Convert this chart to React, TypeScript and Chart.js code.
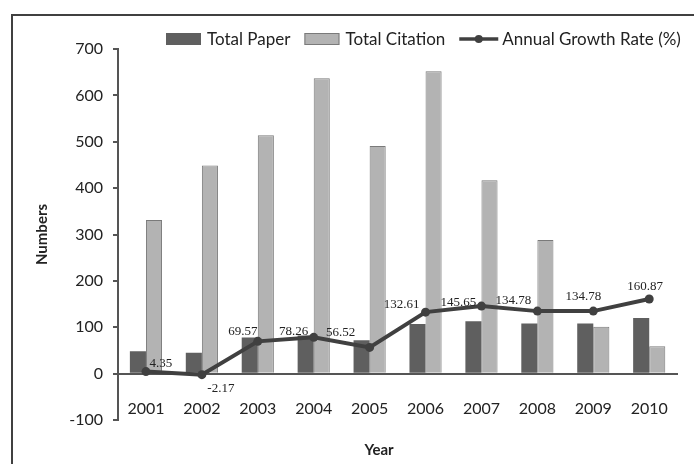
import React, { useEffect, useRef } from "react";
import { Chart, registerables } from "chart.js";

Chart.register(...registerables);

const years = ["2001", "2002", "2003", "2004", "2005", "2006", "2007", "2008", "2009", "2010"];
const totalPaper = [48, 45, 78, 82, 72, 107, 113, 108, 108, 120];
const totalCitation = [331, 449, 514, 637, 491, 652, 417, 288, 101, 59];
const growthRate = [4.35, -2.17, 69.57, 78.26, 56.52, 132.61, 145.65, 134.78, 134.78, 160.87];
const growthLabels = ["4.35", "-2.17", "69.57", "78.26", "56.52", "132.61", "145.65", "134.78", "134.78", "160.87"];
const yTicks = [-100, 0, 100, 200, 300, 400, 500, 600, 700];
const yTitle = "Numbers";
const xTitle = "Year";

// label placement offsets (dx, dy) relative to each point, in pixels
const labelOffsets: [number, number][] = [
  [15, -8], [19, 14], [-15, -10], [-20, -6], [-29, -15],
  [-24, -8], [-23, -4], [-24, -11], [-10, -15], [-4, -12],
];

const FONT = "Lato, 'Open Sans', sans-serif";
const DARK = "#5f5f5f";
const LIGHT = "#b3b3b3";
const LIGHT_BORDER = "#7a7a7a";
const LINE = "#404040";
const AXIS = "#555555";
const TEXT = "#222222";

const decorPlugin = {
  id: "decor",
  beforeDraw(chart: any) {
    const ctx = chart.ctx;
    ctx.save();
    ctx.fillStyle = "#ffffff";
    ctx.fillRect(0, 0, chart.width, chart.height);
    ctx.strokeStyle = "#404040";
    ctx.lineWidth = 2;
    ctx.strokeRect(12, 15, chart.width + 20, chart.height + 20);
    ctx.restore();
  },
  afterDraw(chart: any) {
    const ctx = chart.ctx;
    const area = chart.chartArea;
    ctx.save();
    // data labels
    const meta = chart.getDatasetMeta(2);
    ctx.font = "13px 'Liberation Serif', serif";
    ctx.fillStyle = TEXT;
    ctx.textAlign = "center";
    ctx.textBaseline = "middle";
    meta.data.forEach((pt: any, i: number) => {
      const [dx, dy] = labelOffsets[i];
      ctx.fillText(growthLabels[i], pt.x + dx, pt.y + dy);
    });

    // axis titles
    ctx.font = `bold 15px ${FONT}`;
    ctx.fillStyle = TEXT;
    ctx.save();
    ctx.translate(42, (area.top + area.bottom) / 2);
    ctx.rotate(-Math.PI / 2);
    ctx.fillText(yTitle, 0, 0);
    ctx.restore();
    ctx.fillText(xTitle, 379, 450);

    // legend
    ctx.font = `17px ${FONT}`;
    ctx.textAlign = "left";
    let x = 166;
    const y = 39;
    chart.data.datasets.forEach((ds: any) => {
      if (ds.type === "line") {
        ctx.strokeStyle = ds.borderColor;
        ctx.lineWidth = 3.5;
        ctx.beginPath();
        ctx.moveTo(x, y);
        ctx.lineTo(x + 39, y);
        ctx.stroke();
        ctx.fillStyle = ds.borderColor;
        ctx.beginPath();
        ctx.arc(x + 19.5, y, 4, 0, Math.PI * 2);
        ctx.fill();
        ctx.fillStyle = TEXT;
        ctx.fillText(ds.label, x + 43, y + 1);
        x += 43 + ctx.measureText(ds.label).width + 14;
      } else {
        ctx.fillStyle = ds.backgroundColor;
        ctx.fillRect(x, y - 6, 35, 12);
        if (ds.borderWidth) {
          ctx.strokeStyle = ds.borderColor;
          ctx.lineWidth = 1;
          ctx.strokeRect(x + 0.5, y - 5.5, 34, 11);
        }
        ctx.fillStyle = TEXT;
        ctx.fillText(ds.label, x + 41, y + 1);
        x += 41 + ctx.measureText(ds.label).width + 14;
      }
    });
    ctx.restore();
  },
};

export default function App() {
  const ref = useRef<HTMLCanvasElement>(null);
  useEffect(() => {
    if (!ref.current) return;
    const chart = new Chart(ref.current, {
      type: "bar",
      data: {
        labels: years,
        datasets: [
          {
            type: "bar",
            label: "Total Paper",
            data: totalPaper,
            backgroundColor: DARK,
            borderWidth: 0,
            order: 2,
          } as any,
          {
            type: "bar",
            label: "Total Citation",
            data: totalCitation,
            backgroundColor: LIGHT,
            borderColor: LIGHT_BORDER,
            borderWidth: 1,
            order: 2,
          } as any,
          {
            type: "line",
            label: "Annual Growth Rate (%)",
            data: growthRate,
            borderColor: LINE,
            backgroundColor: LINE,
            borderWidth: 4,
            pointRadius: 4.5,
            pointBackgroundColor: LINE,
            pointBorderWidth: 0,
            tension: 0,
            order: 0,
          } as any,
        ],
      },
      options: {
        responsive: false,
        animation: false,
        devicePixelRatio: 1,
        layout: { padding: { left: 0, right: 2, top: 49, bottom: 44 } },
        datasets: {
          bar: { barPercentage: 1, categoryPercentage: 0.575 },
        } as any,
        plugins: {
          legend: { display: false },
          tooltip: { enabled: false },
        },
        scales: {
          x: {
            position: { y: 0 } as any,
            grid: { display: false, drawTicks: false },
            border: { display: true, color: AXIS, width: 2 },
            ticks: {
              color: TEXT,
              font: { family: FONT, size: 16 },
              padding: 26,
              maxRotation: 0,
            },
          },
          y: {
            min: -100,
            max: 700,
            afterBuildTicks: (scale: any) => {
              scale.ticks = yTicks.map((v) => ({ value: v }));
            },
            afterFit: (scale: any) => {
              scale.width = 118;
            },
            grid: {
              drawOnChartArea: false,
              drawTicks: true,
              tickLength: 5,
              color: AXIS,
              lineWidth: 2,
            },
            border: { display: true, color: AXIS, width: 2 },
            ticks: {
              color: TEXT,
              font: { family: FONT, size: 16 },
              padding: 10,
            },
          },
        },
      },
      plugins: [decorPlugin],
    });
    return () => chart.destroy();
  }, []);
  return (
    <div style={{ position: "absolute", left: 0, top: 0, width: 694, height: 464, background: "#fff" }}>
      <canvas ref={ref} width={694} height={464} />
    </div>
  );
}
